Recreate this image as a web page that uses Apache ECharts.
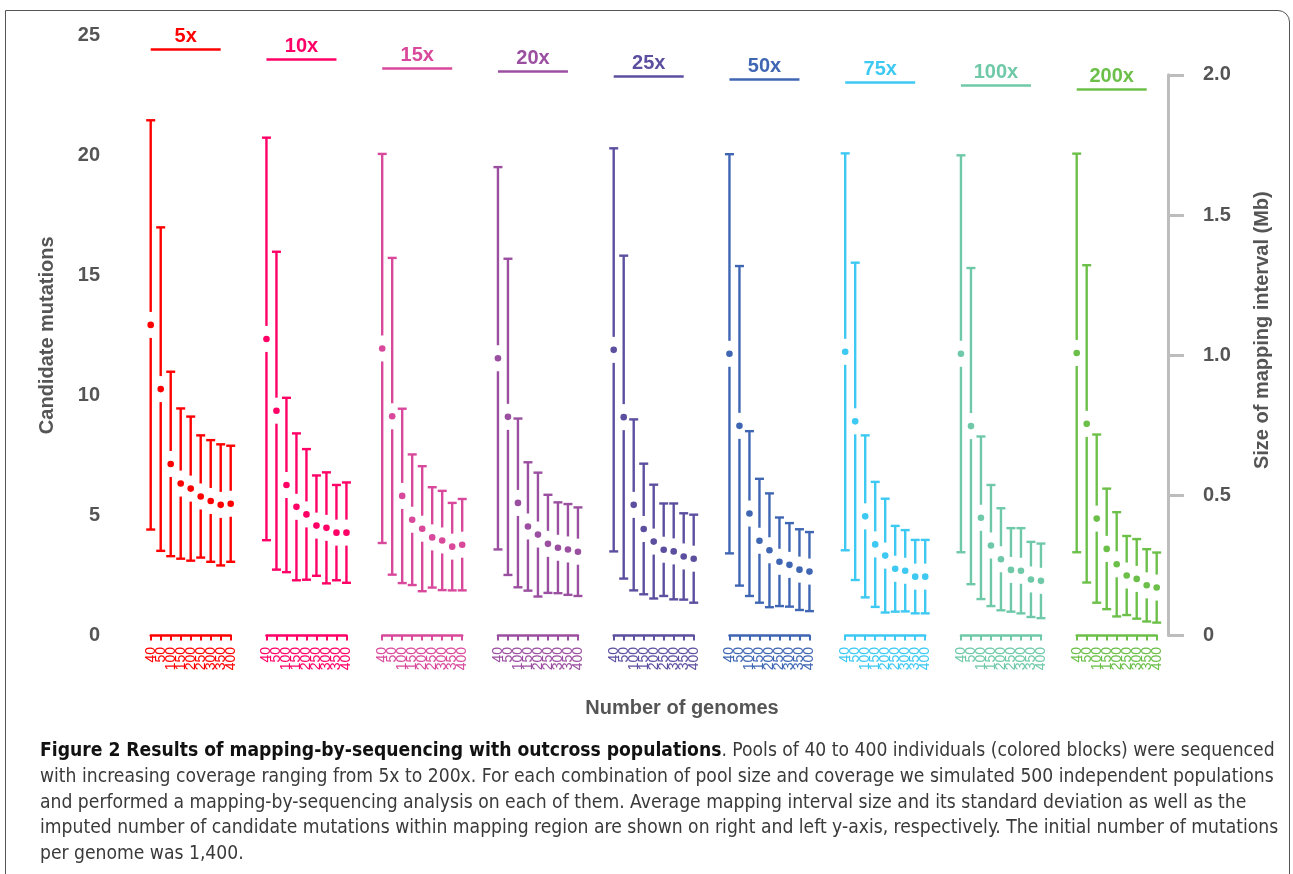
<!DOCTYPE html>
<html>
<head>
<meta charset="utf-8">
<script src="https://cdn.jsdelivr.net/npm/echarts@6/dist/echarts.min.js"></script>
<style>
html,body{margin:0;padding:0;background:#fff;}
#wrap{position:relative;width:1293px;height:874px;overflow:hidden;}
#frame{position:absolute;left:5px;top:10px;width:1285px;height:900px;border:1.5px solid #555;border-top-right-radius:12px;box-sizing:border-box;}
#chart{position:absolute;left:0;top:0;width:1293px;height:874px;}
#caption{position:absolute;left:40px;top:737px;font-family:"Liberation Sans Narrow","DejaVu Sans Condensed","Liberation Sans",sans-serif;font-size:20px;line-height:25.75px;color:#3a3a3a;white-space:nowrap;transform-origin:0 0;}
#caption b{color:#111;}
</style>
</head>
<body>
<div id="wrap">
  <div id="frame"></div>
  <div id="chart"></div>
  <div id="caption">
    <div id="cl1"><b>Figure 2 Results of mapping-by-sequencing with outcross populations</b>. Pools of 40 to 400 individuals (colored blocks) were sequenced</div>
    <div id="cl2">with increasing coverage ranging from 5x to 200x. For each combination of pool size and coverage we simulated 500 independent populations</div>
    <div>and performed a mapping-by-sequencing analysis on each of them. Average mapping interval size and its standard deviation as well as the</div>
    <div>imputed number of candidate mutations within mapping region are shown on right and left y-axis, respectively. The initial number of mutations</div>
    <div>per genome was 1,400.</div>
  </div>
</div>
<script>
// ---------------- DATA ----------------
const coverages = ['5x', '10x', '15x', '20x', '25x', '50x', '75x', '100x', '200x'];
const poolSizes = ['40', '50', '100', '150', '200', '250', '300', '350', '400'];

// average mapping interval size (Mb) and its standard deviation, per coverage
const mean5x   = [1.108, 0.879, 0.612, 0.542, 0.524, 0.496, 0.480, 0.466, 0.470];
const sd5x     = [0.730, 0.577, 0.329, 0.268, 0.257, 0.218, 0.217, 0.216, 0.207];
const mean10x  = [1.058, 0.802, 0.537, 0.459, 0.432, 0.392, 0.384, 0.367, 0.367];
const sd10x    = [0.718, 0.567, 0.311, 0.262, 0.233, 0.179, 0.198, 0.170, 0.179];
const mean15x  = [1.024, 0.782, 0.498, 0.413, 0.381, 0.350, 0.339, 0.317, 0.324];
const sd15x    = [0.694, 0.565, 0.311, 0.233, 0.223, 0.179, 0.177, 0.156, 0.163];
const mean20x  = [0.989, 0.780, 0.473, 0.389, 0.360, 0.327, 0.313, 0.307, 0.299];
const sd20x    = [0.682, 0.564, 0.301, 0.229, 0.221, 0.175, 0.162, 0.162, 0.158];
const mean25x  = [1.019, 0.779, 0.466, 0.380, 0.335, 0.306, 0.300, 0.282, 0.274];
const sd25x    = [0.719, 0.576, 0.305, 0.233, 0.203, 0.165, 0.171, 0.154, 0.157];
const mean50x  = [1.005, 0.748, 0.435, 0.338, 0.304, 0.263, 0.252, 0.235, 0.228];
const sd50x    = [0.712, 0.570, 0.294, 0.221, 0.203, 0.158, 0.149, 0.144, 0.141];
const mean75x  = [1.012, 0.764, 0.425, 0.325, 0.285, 0.238, 0.231, 0.210, 0.210];
const sd75x    = [0.708, 0.566, 0.289, 0.223, 0.203, 0.153, 0.145, 0.131, 0.131];
const mean100x = [1.005, 0.747, 0.420, 0.321, 0.272, 0.234, 0.231, 0.200, 0.195];
const sd100x   = [0.708, 0.564, 0.290, 0.216, 0.182, 0.149, 0.152, 0.134, 0.133];
const mean200x = [1.008, 0.755, 0.417, 0.309, 0.254, 0.214, 0.202, 0.179, 0.171];
const sd200x   = [0.711, 0.566, 0.300, 0.215, 0.186, 0.141, 0.142, 0.129, 0.125];

const means = [mean5x, mean10x, mean15x, mean20x, mean25x, mean50x, mean75x, mean100x, mean200x];
const sds   = [sd5x, sd10x, sd15x, sd20x, sd25x, sd50x, sd75x, sd100x, sd200x];

// left axis (candidate mutations) and right axis (Mb) ticks
const leftTicks  = [0, 5, 10, 15, 20, 25];
const rightTicks = [0, 0.5, 1.0, 1.5, 2.0];
const mutationsPerMb = 11.67;   // 1,400 mutations / ~120 Mb genome

// ---------------- STYLE / LAYOUT ----------------
const colors = ['#ff0000', '#ff0066', '#d9499b', '#9b4fa0', '#5c4fa0', '#3f66b3', '#3ec9f3', '#6fc9a9', '#6cc04a'];
const headerLevelsMb = [2.092, 2.056, 2.024, 2.013, 1.995, 1.984, 1.973, 1.963, 1.949];
const plotTop = 35, plotBottom = 238.5, chartH = 874;
const leftMax = leftTicks[leftTicks.length - 1];
const mbMax = leftMax / mutationsPerMb;
const pxPerMb = (chartH - plotTop - plotBottom) / mbMax;
const rightMax = rightTicks[rightTicks.length - 1];
const rightTop = (chartH - plotBottom) - rightMax * pxPerMb;
const groupLeft0 = 150.7, groupStep = 115.75, groupWidth = 80;
const axisGrey = '#555';
const fontMain = 'Liberation Sans, Arial, sans-serif';

function makeRender(color) {
  return function (params, api) {
    const x = api.value(0), m = api.value(1), s = api.value(2);
    const pT = api.coord([x, m + s]);
    const pM = api.coord([x, m]);
    const pB = api.coord([x, m - s]);
    const cx = pM[0], g = 13, w = 4.5;
    const st = { stroke: color, lineWidth: 2.4 };
    return {
      type: 'group',
      children: [
        { type: 'line', shape: { x1: cx, y1: pT[1], x2: cx, y2: pM[1] - g }, style: st },
        { type: 'line', shape: { x1: cx, y1: pM[1] + g, x2: cx, y2: pB[1] }, style: st },
        { type: 'line', shape: { x1: cx - w, y1: pT[1], x2: cx + w, y2: pT[1] }, style: st },
        { type: 'line', shape: { x1: cx - w, y1: pB[1], x2: cx + w, y2: pB[1] }, style: st },
        { type: 'circle', shape: { cx: cx, cy: pM[1], r: 3.3 }, style: { fill: color } }
      ]
    };
  };
}

const grids = [
  { left: 125, width: 10, top: plotTop, bottom: plotBottom },
  { left: 1168, width: 10, top: rightTop, bottom: plotBottom }
];
const xAxes = [
  { gridIndex: 0, type: 'value', show: false },
  { gridIndex: 1, type: 'value', show: false }
];
const yAxes = [
  {
    gridIndex: 0, type: 'value', min: 0, max: leftMax, interval: 5, position: 'left',
    axisLine: { show: false }, axisTick: { show: false }, splitLine: { show: false },
    axisLabel: { color: axisGrey, fontSize: 20, fontWeight: 'bold', fontFamily: fontMain, margin: 25 },
    name: 'Candidate mutations', nameLocation: 'middle', nameGap: 68, nameRotate: 90,
    nameTextStyle: { color: axisGrey, fontSize: 20, fontWeight: 'bold', fontFamily: fontMain }
  },
  {
    gridIndex: 1, type: 'value', min: 0, max: rightMax, interval: 0.5, position: 'right',
    axisLine: { show: true, lineStyle: { color: '#bdbdbd', width: 3 } },
    axisTick: { show: true, length: 16, lineStyle: { color: '#bdbdbd', width: 3 } },
    splitLine: { show: false },
    axisLabel: { color: axisGrey, fontSize: 20, fontWeight: 'bold', fontFamily: fontMain, margin: 25,
      formatter: v => (v === 0 ? '0' : v.toFixed(1)) },
    name: 'Size of mapping interval (Mb)', nameLocation: 'middle', nameGap: 74, nameRotate: 90,
    nameTextStyle: { color: axisGrey, fontSize: 20, fontWeight: 'bold', fontFamily: fontMain, padding: [0, 0, 0, 50] }
  }
];
const series = [];

coverages.forEach((cov, i) => {
  const gi = i + 2;
  const color = colors[i];
  grids.push({ left: groupLeft0 + groupStep * i, width: groupWidth, top: plotTop, bottom: plotBottom });
  xAxes.push({
    gridIndex: gi, type: 'category', data: poolSizes, boundaryGap: false, position: 'bottom', offset: 3.5,
    axisLine: { show: true, lineStyle: { color: color, width: 2.5 } },
    axisTick: { show: true, interval: 0, length: 5, lineStyle: { color: color, width: 2 } },
    axisLabel: { interval: 0, rotate: 90, color: color, fontSize: 14, margin: 8, fontFamily: fontMain },
    splitLine: { show: false }
  });
  yAxes.push({ gridIndex: gi, type: 'value', min: 0, max: mbMax, show: false });
  series.push({
    type: 'custom',
    name: cov,
    xAxisIndex: gi,
    yAxisIndex: gi,
    clip: false,
    silent: true,
    renderItem: makeRender(color),
    encode: { x: 0, y: 1 },
    data: poolSizes.map((p, j) => [j, means[i][j], sds[i][j]]),
    markLine: {
      silent: true,
      symbol: ['none', 'none'],
      animation: false,
      lineStyle: { color: color, width: 2.6, type: 'solid' },
      label: { show: true, position: 'insideMiddleTop', formatter: cov, color: color,
               fontSize: 20, fontWeight: 'bold', fontFamily: fontMain, distance: 3 },
      data: [[{ coord: [0, headerLevelsMb[i]] }, { coord: [7, headerLevelsMb[i]] }]]
    }
  });
});

const chart = echarts.init(document.getElementById('chart'), null, { renderer: 'canvas' });
chart.setOption({
  animation: false,
  backgroundColor: 'transparent',
  grid: grids,
  xAxis: xAxes,
  yAxis: yAxes,
  series: series,
  graphic: [{
    type: 'text', x: 682, y: 708,
    style: { text: 'Number of genomes', textAlign: 'center', textVerticalAlign: 'middle',
             fill: axisGrey, font: 'bold 20px ' + fontMain }
  }]
});

// fit the caption to the width of the original text block
const cap = document.getElementById('caption');
const l2 = document.getElementById('cl2');
const w2 = l2.scrollWidth;
if (w2 > 0) {
  cap.style.transform = 'scaleX(' + (1238 / w2) + ')';
}
</script>
</body>
</html>
